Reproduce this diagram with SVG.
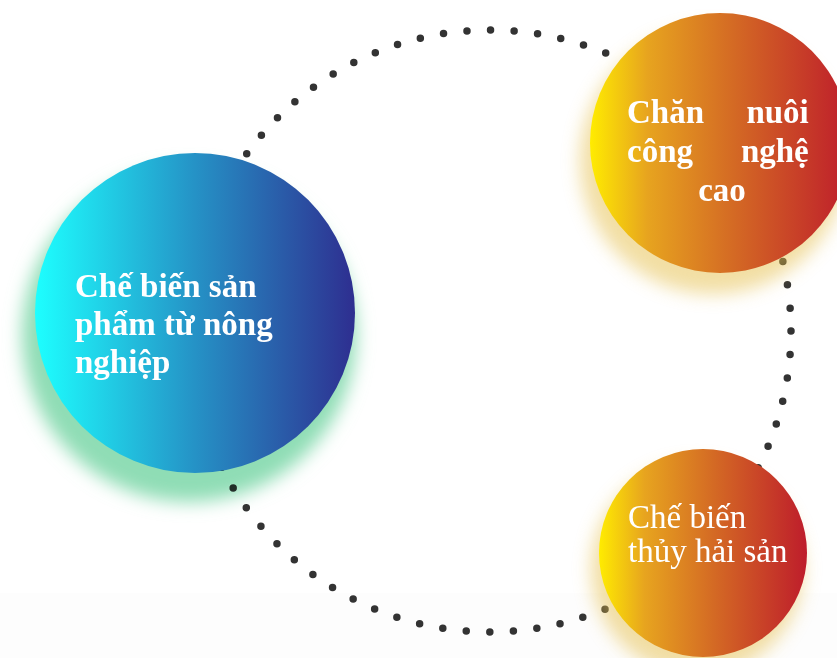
<svg xmlns="http://www.w3.org/2000/svg" width="837" height="658" viewBox="0 0 837 658">
  <defs>
    <linearGradient id="gBlue" x1="0" y1="0" x2="1" y2="0">
      <stop offset="0" stop-color="#1DFFFF"/>
      <stop offset="0.5" stop-color="#2592C6"/>
      <stop offset="1" stop-color="#2E2E90"/>
    </linearGradient>
    <linearGradient id="gOrange" x1="0" y1="0" x2="1" y2="0">
      <stop offset="0" stop-color="#FFEC00"/>
      <stop offset="0.22" stop-color="#E7A41F"/>
      <stop offset="0.55" stop-color="#D46A24"/>
      <stop offset="1" stop-color="#BE1D2B"/>
    </linearGradient>
    <filter id="blur" x="-30%" y="-30%" width="160%" height="160%">
      <feGaussianBlur stdDeviation="9"/>
    </filter>
  </defs>
  <style>
    .dots { fill: none; stroke: #333333; stroke-width: 7.5; stroke-linecap: round; stroke-dasharray: 0 23.64; }
    .glowGreen { fill: #8FDDB5; filter: url(#blur); mix-blend-mode: multiply; }
    .glowGold { fill: #E5BE4A; opacity: 0.5; filter: url(#blur); }
    .lbl { fill: #FFFFFF; font-family: "Liberation Serif", "DejaVu Serif", serif; font-size: 33px; }
    .b { font-weight: bold; }
  </style>

  <rect x="0" y="0" width="837" height="658" fill="#FFFFFF"/>
  <rect x="0" y="593" width="837" height="65" fill="#FDFDFD"/>

  <g id="connectors">
    <circle class="dots" cx="490" cy="331" r="301"/>
  </g>

  <g id="node-che-bien-nong-nghiep">
    <circle class="glowGreen" cx="189" cy="335" r="167"/>
    <circle cx="195" cy="313" r="160" fill="url(#gBlue)"/>
    <text class="lbl b" x="75">
      <tspan x="75" y="297">Chế biến sản</tspan>
      <tspan x="75" y="335">phẩm từ nông</tspan>
      <tspan x="75" y="373">nghiệp</tspan>
    </text>
  </g>

  <g id="node-chan-nuoi">
    <circle class="glowGold" cx="713" cy="161" r="133"/>
    <circle cx="720" cy="143" r="130" fill="url(#gOrange)"/>
    <text class="lbl b">
      <tspan x="627" y="123">Chăn</tspan>
      <tspan x="817" y="123" text-anchor="end">nuôi</tspan>
      <tspan x="627" y="162">công</tspan>
      <tspan x="817" y="162" text-anchor="end">nghệ</tspan>
      <tspan x="722" y="201" text-anchor="middle">cao</tspan>
    </text>
  </g>

  <g id="node-thuy-hai-san">
    <circle class="glowGold" cx="697" cy="569" r="106"/>
    <circle cx="703" cy="553" r="104" fill="url(#gOrange)"/>
    <text class="lbl">
      <tspan x="628" y="528">Chế biến</tspan>
      <tspan x="628" y="562">thủy hải sản</tspan>
    </text>
  </g>
</svg>
